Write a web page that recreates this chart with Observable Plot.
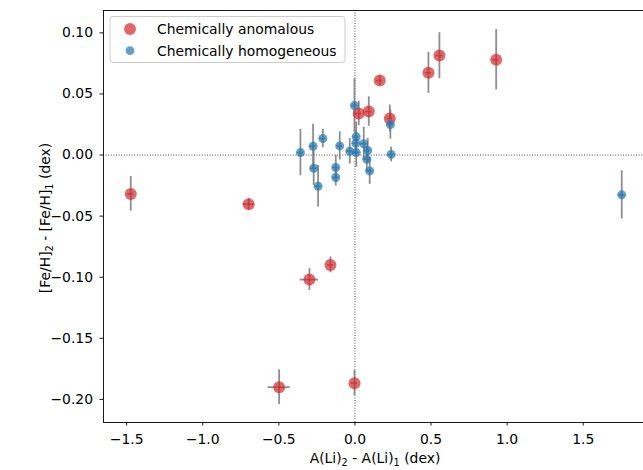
<!DOCTYPE html>
<html>
<head>
<meta charset="utf-8">
<script src="https://cdn.jsdelivr.net/npm/d3@7"></script>
<script src="https://cdn.jsdelivr.net/npm/@observablehq/plot@0.6"></script>
<style>
  body { margin: 0; background: #fff; }
  #chart svg { display: block; }
</style>
</head>
<body>
<div id="chart"></div>
<script>
// ---- Data ----
const seriesNames = ["Chemically anomalous", "Chemically homogeneous"];
const seriesColors = ["#d62728", "#1f77b4"];

// Chemically anomalous pairs
const anomX    = [-1.473, -0.698, -0.299, -0.161, -0.498, -0.003, 0.025, 0.091, 0.163, 0.229, 0.483, 0.555, 0.928];
const anomY    = [-0.0318, -0.0402, -0.1019, -0.0899, -0.1900, -0.1867, 0.0340, 0.0356, 0.0610, 0.0300, 0.0673, 0.0814, 0.0780];
const anomXerr = [0.02, 0.037, 0.060, 0.02, 0.073, 0.02, 0.02, 0.02, 0.02, 0.02, 0.02, 0.02, 0.02];
const anomYerr = [0.0142, 0.0048, 0.0089, 0.0065, 0.0142, 0.0104, 0.010, 0.012, 0.004, 0.011, 0.0168, 0.0188, 0.0247];

// Chemically homogeneous pairs
const homoX    = [-0.358, -0.275, -0.271, -0.211, -0.242, -0.100, -0.126, -0.126, -0.034, -0.003, 0.008, 0.006, 0.009, 0.058, 0.084, 0.078, 0.097, 0.233, 0.238, 1.753];
const homoY    = [0.0020, 0.0072, -0.0108, 0.0135, -0.0255, 0.0075, -0.0102, -0.0184, 0.0031, 0.0405, 0.0150, 0.0097, 0.0020, 0.0092, 0.0037, -0.0034, -0.0130, 0.0250, 0.0005, -0.0326];
const homoXerr = [0.02, 0.02, 0.02, 0.02, 0.02, 0.02, 0.02, 0.02, 0.02, 0.02, 0.02, 0.02, 0.02, 0.02, 0.02, 0.02, 0.02, 0.02, 0.02, 0.02];
const homoYerr = [0.019, 0.018, 0.014, 0.0076, 0.017, 0.0116, 0.010, 0.007, 0.0105, 0.022, 0.012, 0.010, 0.012, 0.0136, 0.010, 0.010, 0.011, 0.012, 0.006, 0.0197];

// Axes
const xTicks = [-1.5, -1.0, -0.5, 0.0, 0.5, 1.0, 1.5];
const yTicks = [-0.20, -0.15, -0.10, -0.05, 0.00, 0.05, 0.10];
const xDomain = [-1.652, 1.896];
const yDomain = [-0.2189, 0.1183];
// label parts: [text, isSubscript]
const xLabelParts = [["A(Li)", false], ["2", true], [" - A(Li)", false], ["1", true], [" (dex)", false]];
const yLabelParts = [["[Fe/H]", false], ["2", true], [" - [Fe/H]", false], ["1", true], [" (dex)", false]];

// ---- Build tables ----
const anom = anomX.map((x, i) => ({x, y: anomY[i], xe: anomXerr[i], ye: anomYerr[i]}));
const homo = homoX.map((x, i) => ({x, y: homoY[i], xe: homoXerr[i], ye: homoYerr[i]}));
const all = anom.concat(homo);

const W = 643, H = 470;
const errStyle = {stroke: "#7a7a7a", strokeWidth: 1.8, strokeOpacity: 0.85};
const spine = {stroke: "#000", strokeWidth: 0.9};
const dotted = {stroke: "#222", strokeWidth: 0.8, strokeDasharray: "1,1.6"};
const dotOpacity = 0.7;

const plot = Plot.plot({
  width: W,
  height: H,
  marginLeft: 103,
  marginRight: 0,
  marginTop: 10,
  marginBottom: 48,
  style: {fontFamily: "'DejaVu Sans', sans-serif", fontSize: "13.9px", color: "#000", background: "#fff"},
  x: {domain: xDomain, ticks: xTicks, tickFormat: d3.format(".1f"), tickSize: 3.5, tickPadding: 8, label: null},
  y: {domain: yDomain, ticks: yTicks, tickFormat: d3.format(".2f"), tickSize: 3.5, tickPadding: 7, label: null},
  marks: [
    Plot.ruleX([0], dotted),
    Plot.ruleY([0], dotted),
    // error bars
    Plot.ruleX(all, {x: "x", y1: d => d.y - d.ye, y2: d => d.y + d.ye, ...errStyle}),
    Plot.ruleY(all, {y: "y", x1: d => d.x - d.xe, x2: d => d.x + d.xe, ...errStyle}),
    // points
    Plot.dot(anom, {x: "x", y: "y", r: 6, fill: seriesColors[0], fillOpacity: dotOpacity, stroke: null}),
    Plot.dot(homo, {x: "x", y: "y", r: 4.5, fill: seriesColors[1], fillOpacity: dotOpacity, stroke: null}),
    // spines (left, top, bottom)
    Plot.ruleX([xDomain[0]], spine),
    Plot.ruleY([yDomain[0]], spine),
    Plot.ruleY([yDomain[1]], spine)
  ]
});

document.getElementById("chart").appendChild(plot);

const svg = d3.select(plot);
svg.selectAll("g[aria-label='x-axis tick'] path, g[aria-label='y-axis tick'] path")
   .attr("stroke", "#000").attr("stroke-width", 0.9);

function addLabel(parts, attrs) {
  const t = svg.append("text")
    .attr("font-family", "'DejaVu Sans', sans-serif")
    .attr("font-size", 13.9)
    .attr("fill", "#000");
  Object.entries(attrs).forEach(([k, v]) => t.attr(k, v));
  let shifted = false;
  parts.forEach(([s, sub]) => {
    const ts = t.append("tspan").text(s);
    if (sub) { ts.attr("font-size", 9.7).attr("dy", 3.3); shifted = true; }
    else if (shifted) { ts.attr("dy", -3.3); shifted = false; }
  });
  return t;
}
addLabel(xLabelParts, {x: 375, y: 463, "text-anchor": "middle"});
addLabel(yLabelParts, {transform: "translate(49.5,218) rotate(-90)", "text-anchor": "middle"});

// Legend
const lg = svg.append("g");
lg.append("rect").attr("x", 110).attr("y", 16.5).attr("width", 235).attr("height", 46)
  .attr("rx", 3).attr("fill", "#fff").attr("fill-opacity", 0.8)
  .attr("stroke", "#cccccc").attr("stroke-width", 1);
const legendR = [6, 4.4];
seriesNames.forEach((name, i) => {
  const cy = 29 + i * 21.7;
  lg.append("circle").attr("cx", 130).attr("cy", cy).attr("r", legendR[i])
    .attr("fill", seriesColors[i]).attr("fill-opacity", dotOpacity);
  lg.append("text").attr("x", 157).attr("y", cy + 4.8)
    .attr("text-anchor", "start")
    .attr("font-family", "'DejaVu Sans', sans-serif").attr("font-size", 13.9)
    .attr("fill", "#000").text(name);
});
</script>
</body>
</html>
